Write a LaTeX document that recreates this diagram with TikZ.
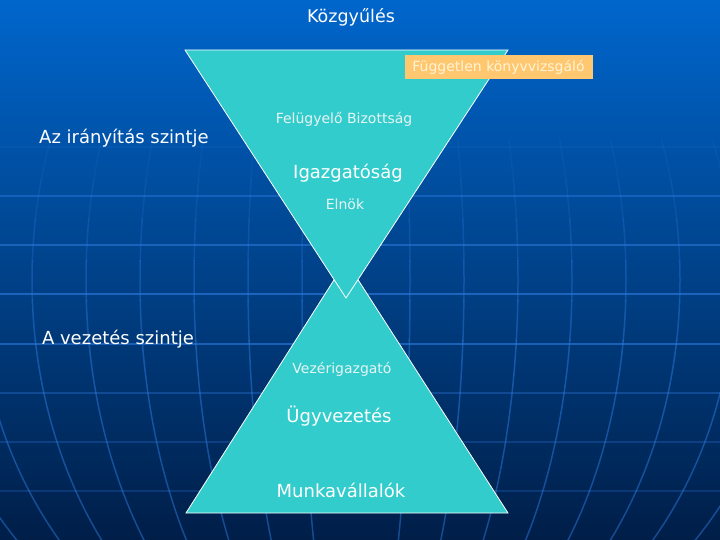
\documentclass[tikz,border=0pt]{standalone}
\usepackage{fontspec}
\setmainfont{DejaVu Sans}
\definecolor{bgtop}{RGB}{0,102,204}
\definecolor{bgmid}{RGB}{0,68,152}
\definecolor{bgbot}{RGB}{0,30,72}
\definecolor{gridc}{RGB}{50,130,235}
\definecolor{turq}{RGB}{51,204,204}
\definecolor{boxc}{RGB}{255,200,112}
\definecolor{boxtxt}{RGB}{255,244,215}
\definecolor{softw}{RGB}{232,244,244}
\begin{document}
\begin{tikzpicture}[x=1pt,y=-1pt,
  lbl/.style={text=white,inner sep=0pt,font=\fontsize{18}{21}\selectfont},
  small/.style={text=softw,inner sep=0pt,font=\fontsize{14}{16}\selectfont},
  fkbox/.style={fill=boxc,text=boxtxt,inner sep=0pt,minimum width=188pt,minimum height=24pt,font=\fontsize{14}{16}\selectfont},
  hline/.style={draw=gridc,line width=1.6pt},
  mline/.style={draw=gridc,line width=1.5pt},
  tri/.style={fill=turq,draw=white,line width=0.8pt,line join=miter}]
\useasboundingbox (0,0) rectangle (720,540);
\shade[top color=bgtop,middle color=bgmid,bottom color=bgbot] (0,0) rectangle (720,540);
\begin{scope}
  \clip (0,0) rectangle (720,540);
  \foreach \yy/\op in {147/0.1,196/0.4,245/0.5,294/0.55,344/0.55,393/0.3,442/0.25,491/0.22}
    \draw[hline,opacity=\op] (0,\yy) -- (720,\yy);
\end{scope}
\foreach \ya/\yb/\op in {140/180/0.1,180/220/0.17,220/260/0.25,260/300/0.33,300/340/0.4,340/540/0.45}{
  \begin{scope}
    \clip (0,\ya) rectangle (720,\yb);
    \foreach \a in {54,108,162,216,270,324,378,432}
      \draw[mline,opacity=\op] (356,280) ellipse [x radius=\a, y radius=420];
  \end{scope}
}
% triangles
\coordinate (bl) at (186,513);
\coordinate (br) at (508,513);
\coordinate (bapex) at (346,261);
\coordinate (tl) at (185,50);
\coordinate (tr) at (508,50);
\coordinate (tapex) at (346,298);
\draw[tri] (bl) -- (br) -- (bapex) -- cycle;
\draw[tri] (tl) -- (tr) -- (tapex) -- cycle;
% box
\node[fkbox] (fk) at (498.5,67) {Független könyvvizsgáló};
% labels
\node[lbl,font=\fontsize{17.5}{20}\selectfont] (kozgy) at (351,17) {Közgyűlés};
\node[small] (fb) at (344,119) {Felügyelő Bizottság};
\node[lbl] (irany) at (124,138) {Az irányítás szintje};
\node[lbl] (igazg) at (348,173) {Igazgatóság};
\node[small] (elnok) at (345,204) {Elnök};
\node[lbl] (vez) at (118,339) {A vezetés szintje};
\node[small] (vezig) at (342,369) {Vezérigazgató};
\node[lbl] (ugyv) at (339,416) {Ügyvezetés};
\node[lbl] (munka) at (341,490) {Munkavállalók};
\end{tikzpicture}
\end{document}
